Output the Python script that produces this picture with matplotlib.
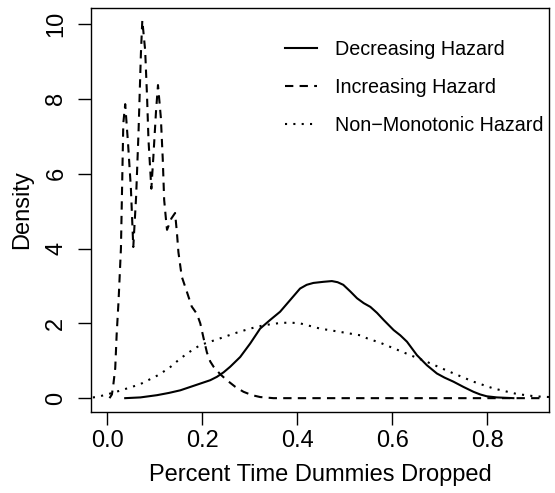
import matplotlib
matplotlib.use("Agg")
import matplotlib.pyplot as plt

plt.rcParams['font.family'] = ['Liberation Sans', 'DejaVu Sans']

# density estimates
dec_x = [0.038, 0.07, 0.105, 0.13, 0.154, 0.175, 0.196, 0.217, 0.231, 0.245, 0.259,
         0.28, 0.301, 0.322, 0.343, 0.364, 0.385, 0.406, 0.42, 0.434, 0.455, 0.473,
         0.485, 0.497, 0.512, 0.526, 0.54, 0.554, 0.568, 0.582, 0.603, 0.617, 0.631,
         0.652, 0.673, 0.694, 0.71, 0.729, 0.75, 0.771, 0.785, 0.799, 0.82, 0.855]
dec_y = [0.0, 0.02, 0.08, 0.14, 0.21, 0.3, 0.39, 0.48, 0.57, 0.69, 0.84,
         1.1, 1.46, 1.86, 2.09, 2.31, 2.62, 2.93, 3.03, 3.08, 3.11, 3.13,
         3.1, 3.03, 2.85, 2.67, 2.54, 2.44, 2.28, 2.09, 1.82, 1.68, 1.51,
         1.15, 0.88, 0.66, 0.55, 0.44, 0.3, 0.17, 0.1, 0.05, 0.02, 0.0]

inc_x = [0.005, 0.01, 0.013, 0.017, 0.02, 0.024, 0.029, 0.034, 0.038, 0.044, 0.05,
         0.055, 0.061, 0.066, 0.071, 0.074, 0.08, 0.084, 0.087, 0.093, 0.097, 0.103,
         0.107, 0.113, 0.117, 0.12, 0.124, 0.126, 0.135, 0.143, 0.147, 0.15, 0.157,
         0.165, 0.178, 0.189, 0.196, 0.203, 0.21, 0.217, 0.224, 0.238, 0.252, 0.27,
         0.287, 0.305, 0.322, 0.35, 0.91]
inc_y = [0.0, 0.1, 0.36, 0.8, 1.7, 2.6, 4.0, 7.35, 7.86, 6.8, 5.6,
         4.04, 5.4, 7.1, 9.2, 10.1, 9.3, 8.05, 6.9, 5.6, 6.4, 7.7,
         8.37, 7.5, 6.4, 5.3, 4.75, 4.5, 4.8, 4.95, 4.4, 3.9, 3.25,
         2.95, 2.45, 2.25, 2.0, 1.6, 1.22, 0.98, 0.84, 0.64, 0.48, 0.3,
         0.17, 0.08, 0.03, 0.0, 0.0]

non_x = [-0.03, -0.022, 0.0, 0.027, 0.069, 0.105, 0.13, 0.154, 0.175, 0.196, 0.238,
         0.27, 0.301, 0.33, 0.364, 0.385, 0.406, 0.448, 0.491, 0.533, 0.547, 0.575,
         0.596, 0.638, 0.673, 0.722, 0.771, 0.813, 0.863, 0.9, 0.93]
non_y = [0.02, 0.03, 0.1, 0.2, 0.37, 0.6, 0.8, 1.06, 1.25, 1.42, 1.6,
         1.74, 1.86, 1.95, 2.01, 2.02, 2.0, 1.86, 1.77, 1.68, 1.6, 1.48,
         1.37, 1.15, 0.97, 0.7, 0.44, 0.26, 0.11, 0.05, 0.03]

labels = ["Decreasing Hazard", "Increasing Hazard", "Non\u2212Monotonic Hazard"]

fs = 17      # axis text
fs_leg = 14.2

fig = plt.figure(figsize=(5.55, 4.93), dpi=100)
ax = fig.add_axes([91/555, 1-412/493, 458/555, 404/493])

ax.plot(dec_x, dec_y, color='black', lw=1.5, label=labels[0])
ax.plot(inc_x, inc_y, color='black', lw=1.5, linestyle=(0, (4, 3)), label=labels[1])
ax.plot(non_x, non_y, color='black', lw=1.5, linestyle=(0, (1, 3)), label=labels[2])

ax.set_xlim(-0.034, 0.93)
ax.set_ylim(-0.37, 10.43)
ax.set_xticks([0.0, 0.2, 0.4, 0.6, 0.8])
ax.set_xticklabels(["0.0", "0.2", "0.4", "0.6", "0.8"])
ax.set_yticks([0, 2, 4, 6, 8, 10])
ax.set_yticklabels(["0", "2", "4", "6", "8", "10"], rotation=90, va='center')
ax.tick_params(direction='out', length=9.5, width=1, labelsize=fs)
ax.tick_params(axis='x', pad=3.6)
ax.tick_params(axis='y', pad=7.6)
for s in ax.spines.values():
    s.set_linewidth(1)

ax.set_xlabel("Percent Time Dummies Dropped", fontsize=fs, labelpad=8.7)
ax.set_ylabel("Density", fontsize=fs, labelpad=8.4)

ax.legend(loc='upper right', bbox_to_anchor=(0.987, 0.92), frameon=False, fontsize=fs_leg,
          handlelength=1.62, handletextpad=0.91, labelspacing=0.95,
          borderpad=0, borderaxespad=0)

fig.savefig("out.png", dpi=100)
